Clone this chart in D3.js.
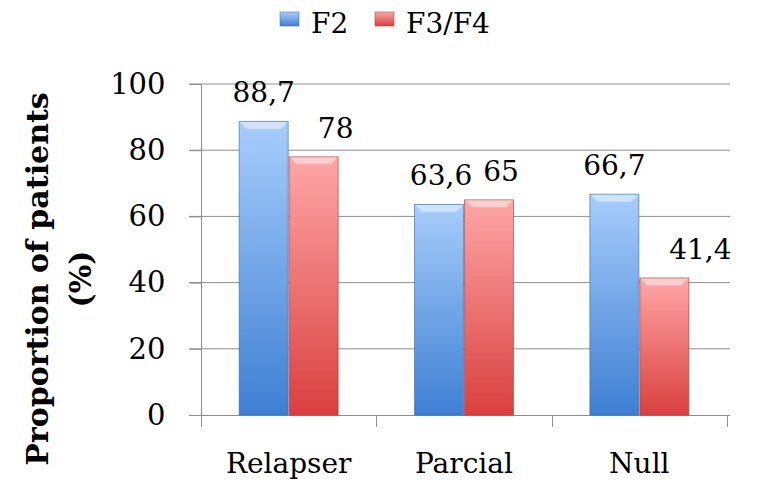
<!DOCTYPE html>
<html>
<head>
<meta charset="utf-8">
<script src="https://cdn.jsdelivr.net/npm/d3@7"></script>
<style>
  body { margin: 0; background: #fff; }
  text { font-family: "DejaVu Serif", serif; fill: #000; }
</style>
</head>
<body>
<div id="chart"></div>
<script>
// data
var categories = ["Relapser", "Parcial", "Null"]
var seriesNames = ["F2", "F3/F4"]
var f2 = [88.7, 63.6, 66.7]
var f3f4 = [78, 65, 41.4]
var yTicks = [0, 20, 40, 60, 80, 100]

var width = 758
var height = 483

var svg = d3.select("#chart")
  .append("svg")
    .attr("width", width)
    .attr("height", height)

var defs = svg.append("defs")
function grad(id, top, bottom) {
  var g = defs.append("linearGradient").attr("id", id)
    .attr("x1", 0).attr("y1", 0).attr("x2", 0).attr("y2", 1)
  g.append("stop").attr("offset", "0%").attr("stop-color", top)
  g.append("stop").attr("offset", "100%").attr("stop-color", bottom)
}
grad("gBlue", "#a8cdfc", "#3e7fd3")
grad("gRed", "#ffa6a6", "#d9403f")
var fills = ["url(#gBlue)", "url(#gRed)"]
var edges = ["#2f64a8", "#a43434"]

// scales
var x = d3.scaleBand()
  .domain(categories)
  .range([201, 727])
  .paddingInner(0.43)
  .paddingOuter(0.215)

var xSub = d3.scaleBand()
  .domain(seriesNames)
  .range([0, x.bandwidth()])

var y = d3.scaleLinear()
  .domain([0, 100])
  .range([415, 84])

// gridlines
svg.append("g")
  .selectAll("line")
  .data(yTicks.filter(d => d > 0))
  .enter()
  .append("line")
    .attr("x1", 189).attr("x2", 730)
    .attr("y1", d => y(d)).attr("y2", d => y(d))
    .attr("stroke", "#8e8e8e")
    .attr("stroke-width", 1)

// y axis
var yAxis = svg.append("g")
  .attr("transform", "translate(201.5,0)")
  .call(d3.axisLeft(y).tickValues(yTicks).tickSize(12).tickPadding(24))
yAxis.select(".domain").attr("stroke", "#8e8e8e").attr("d", "M0," + y(100) + "V" + (y(0) + 12))
yAxis.selectAll(".tick line").attr("stroke", "#8e8e8e")
yAxis.selectAll(".tick text")
  .style("font-family", "'DejaVu Serif', serif")
  .style("font-size", "29px")
  .attr("fill", "#000")

// x axis
svg.append("line")
  .attr("x1", 189).attr("x2", 730)
  .attr("y1", y(0) + 0.5).attr("y2", y(0) + 0.5)
  .attr("stroke", "#8e8e8e")

var bounds = [201].concat(categories.map(c => x(c) + x.bandwidth() + x.step() * x.paddingInner() / 2))
svg.append("g")
  .selectAll("line")
  .data(bounds)
  .enter()
  .append("line")
    .attr("x1", d => Math.round(d) + 0.5).attr("x2", d => Math.round(d) + 0.5)
    .attr("y1", y(0)).attr("y2", y(0) + 12)
    .attr("stroke", "#8e8e8e")

svg.append("g")
  .selectAll("text")
  .data(categories)
  .enter()
  .append("text")
    .attr("x", d => x(d) + x.bandwidth() / 2)
    .attr("y", 473)
    .attr("text-anchor", "middle")
    .style("font-size", "28px")
    .text(d => d)

// bars
var rows = categories.map((c, i) => ({ cat: c, vals: [f2[i], f3f4[i]] }))
// label nudges (labels in the original were moved by hand)
var nudge = [[0, 22], [2, 12], [0, 36]]

var group = svg.append("g")
  .selectAll("g")
  .data(rows)
  .enter()
  .append("g")
    .attr("transform", d => "translate(" + x(d.cat) + ",0)")

group.each(function(row, ci) {
  var g = d3.select(this)
  seriesNames.forEach(function(s, si) {
    var v = row.vals[si]
    var bx = xSub(s), bw = xSub.bandwidth()
    g.append("rect")
      .attr("x", bx + 0.5)
      .attr("y", y(v))
      .attr("width", bw - 1)
      .attr("height", y(0) - y(v))
      .attr("fill", fills[si])
      .attr("stroke", edges[si])
      .attr("stroke-opacity", 0.6)
      .attr("stroke-width", 1)
    // bevel highlight at the top
    g.append("path")
      .attr("d", "M" + (bx + 1) + "," + (y(v) + 0.5) + "h" + (bw - 2) + "l-7,7h" + -(bw - 16) + "z")
      .attr("fill", "#fff")
      .attr("fill-opacity", 0.45)
    g.append("text")
      .attr("x", bx + bw / 2 + nudge[ci][si])
      .attr("y", y(v) - 19)
      .attr("text-anchor", "middle")
      .style("font-size", "28px")
      .text(String(v).replace(".", ","))
  })
})

// y title
var title = svg.append("text")
  .attr("transform", "translate(48,279) rotate(-90)")
  .attr("text-anchor", "middle")
  .style("font-size", "30px")
  .style("font-weight", "bold")
title.append("tspan").attr("x", 0).attr("dy", 0).text("Proportion of patients")
title.append("tspan").attr("x", 0).attr("dy", 43).text("(%)")

// legend
var legend = svg.append("g")
var legX = [280, 375]
seriesNames.forEach(function(s, i) {
  legend.append("rect")
    .attr("x", legX[i]).attr("y", 12)
    .attr("width", 19).attr("height", 14)
    .attr("fill", fills[i])
    .attr("stroke", edges[i]).attr("stroke-opacity", 0.5)
  legend.append("text")
    .attr("x", legX[i] + 31)
    .attr("y", 33)
    .style("font-size", "28px")
    .text(s)
})
</script>
</body>
</html>
